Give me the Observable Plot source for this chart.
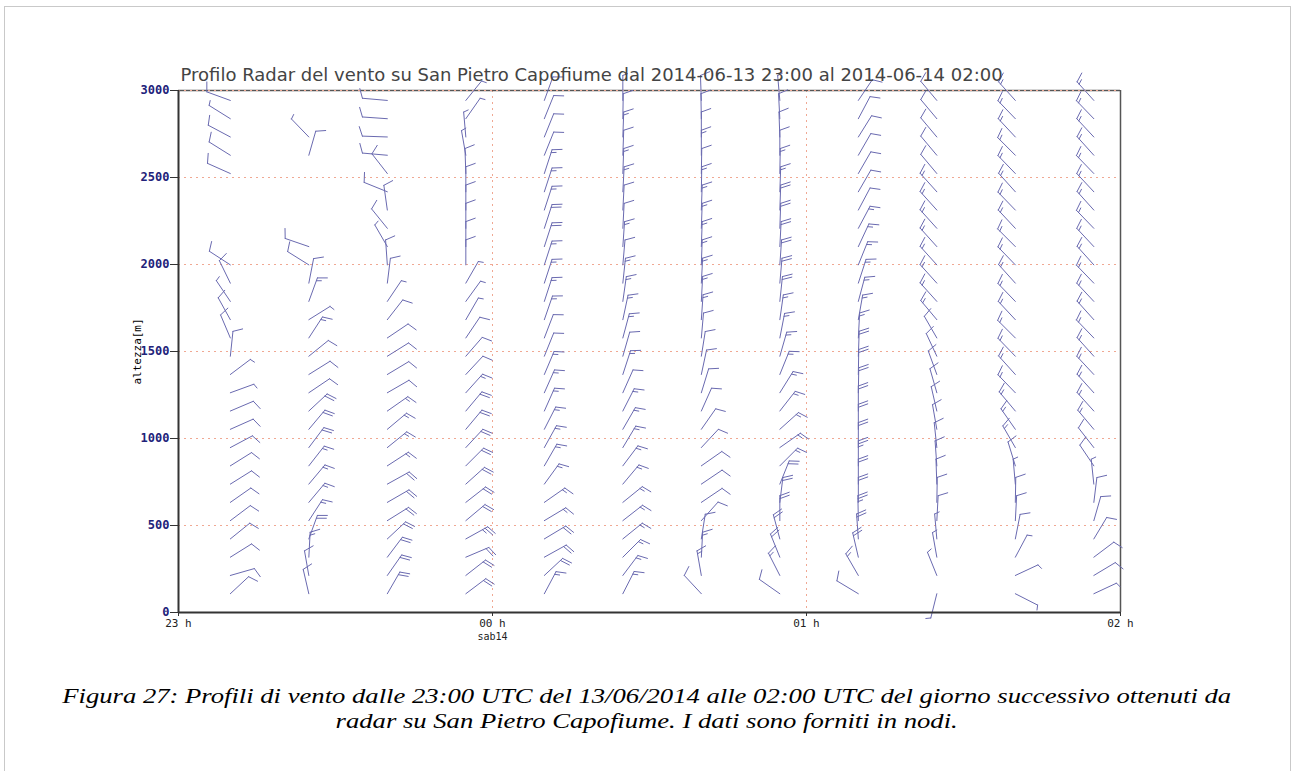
<!DOCTYPE html>
<html><head><meta charset="utf-8">
<script src="https://cdn.jsdelivr.net/npm/d3@7"></script>
<script src="https://cdn.jsdelivr.net/npm/@observablehq/plot@0.6"></script>
<style>
body{margin:0;background:#fff;}
#page{position:relative;width:1293px;height:771px;overflow:hidden;background:#fff;}
#border{position:absolute;left:4px;top:6px;width:1285px;height:820px;border:1px solid #c9c9c9;}
#chart{position:absolute;left:0;top:0;}
#caption{position:absolute;left:0;top:684px;width:1293px;text-align:center;font:italic 20px "Liberation Serif","Times New Roman",serif;line-height:25px;color:#000;transform:scaleX(1.332);transform-origin:646px 0;}
</style></head><body>
<div id="page"><div id="border"></div><div id="chart"></div>
<div id="caption">Figura 27: Profili di vento dalle 23:00 UTC del 13/06/2014 alle 02:00 UTC del giorno successivo ottenuti da<br>radar su San Pietro Capofiume. I dati sono forniti in nodi.</div></div>
<script>
// ---- data ----
const titleText = "Profilo Radar del vento su San Pietro Capofiume dal 2014-06-13 23:00 al 2014-06-14 02:00";
// profile times, minutes after 23:00 UTC
const times = [10, 25, 40, 55, 70, 85, 100, 115, 130, 145, 160, 175];
// radar gate heights (m)
const heights = [105, 210, 315, 420, 525, 630, 735, 840, 945, 1050, 1155, 1260, 1365, 1470,
  1575, 1680, 1785, 1890, 1995, 2100, 2205, 2310, 2415, 2520, 2625, 2730, 2835, 2940];
// wind direction (deg, from) per profile, per gate
const dir01 = [47,74,58,51,53,55,58,58,62,66,67,70,53,6,337,331,326,334,303,null,null,null,null,294,302,298,302,290];
const dir02 = [347,350,3,20,33,40,40,38,37,40,47,56,58,51,33,58,20,11,302,289,null,null,null,null,16,316,null,null];
const dir03 = [30,35,37,47,58,60,61,57,51,50,55,60,59,58,56,38,34,7,356,330,321,352,292,322,275,272,274,275];
const dir04 = [53,52,67,61,50,52,48,45,43,40,40,42,43,41,34,30,36,30,0,0,0,0,0,358,350,355,35,39];
const dir05 = [28,47,61,59,59,55,36,30,29,27,24,24,23,22,21,19,18,18,18,18,18,18,18,18,22,22,22,20];
const dir06 = [27,37,45,51,52,51,40,37,31,30,27,24,18,16,15,12,8,6,5,4,3,3,3,2,2,2,1,0];
const dir07 = [317,350,3,9,42,56,56,55,43,35,24,17,12,9,5,4,3,3,2,2,2,2,1,1,0,0,359,358];
const dir08 = [305,333,338,345,0,7,22,45,55,48,38,32,22,16,11,8,6,5,4,3,2,2,2,1,0,358,357,355];
const dir09 = [301,330,347,356,359,0,0,0,0,0,0,1,1,2,3,10,15,18,22,25,28,28,30,30,30,32,28,34];
const dir10 = [194,338,350,355,3,1,358,356,354,350,347,344,340,335,330,320,318,318,318,318,318,318,318,320,320,320,320,320];
const dir11 = [117,65,28,11,3,1,355,343,330,325,320,316,318,316,315,317,316,318,316,315,317,316,318,316,315,317,316,318];
const dir12 = [65,59,53,31,16,7,354,326,322,320,318,318,317,318,316,318,317,316,318,317,316,318,317,316,318,317,316,318];
// wind speed (knots) per profile, per gate
const spd01 = [10,10,10,10,10,10,10,10,10,10,10,5,5,10,10,10,5,10,10,null,null,null,null,10,10,10,3,10];
const spd02 = [10,10,15,20,15,15,15,15,20,20,20,10,10,10,15,5,15,10,10,10,null,null,null,null,10,5,null,null];
const spd03 = [20,20,20,20,20,20,20,15,15,15,15,10,10,10,10,10,5,10,10,5,10,10,10,10,10,10,10,10];
const spd04 = [20,20,20,25,20,20,20,20,20,20,20,15,10,10,10,5,5,5,10,10,10,10,10,10,5,5,5,5];
const spd05 = [15,20,20,20,15,15,15,15,15,15,15,15,15,10,10,15,15,15,15,20,20,15,15,15,10,10,10,10];
const spd06 = [15,15,15,15,15,15,15,15,15,15,15,10,15,10,15,15,15,15,10,15,10,10,15,15,10,15,10,5];
const spd07 = [10,15,15,10,10,10,10,10,10,10,10,10,10,10,10,15,15,15,15,15,15,15,15,10,15,10,10,10];
const spd08 = [10,15,20,20,20,20,20,15,15,15,15,15,15,15,15,15,20,20,20,20,20,20,15,15,10,10,10,5];
const spd09 = [10,15,20,20,25,20,20,25,20,20,20,20,20,20,15,15,15,15,15,15,15,10,10,10,10,10,10,10];
const spd10 = [3,5,5,5,10,10,10,10,10,10,10,10,10,10,10,15,15,15,15,15,15,15,15,10,10,10,10,10];
const spd11 = [5,5,5,10,10,10,5,10,15,15,15,15,15,15,15,15,15,15,15,15,15,15,15,15,15,15,15,15];
const spd12 = [5,10,10,10,10,10,5,10,10,15,15,15,15,15,15,15,15,15,15,15,15,15,15,15,15,15,15,15];
// axes
const xTicks = [0, 60, 120, 180];
const xTickLabels = ["23 h", "00 h", "01 h", "02 h"];
const dayLabel = "sab14";
const yTicks = [0, 500, 1000, 1500, 2000, 2500, 3000];
const yLabel = "altezza[m]";

// ---- build table ----
const dirs = [dir01,dir02,dir03,dir04,dir05,dir06,dir07,dir08,dir09,dir10,dir11,dir12];
const spds = [spd01,spd02,spd03,spd04,spd05,spd06,spd07,spd08,spd09,spd10,spd11,spd12];
const rows = [];
times.forEach((t, i) => heights.forEach((h, k) => {
  if (dirs[i][k] != null) rows.push({t, h, dir: dirs[i][k], spd: spds[i][k]});
}));

const barbColor = "#6a6ab0";
const gridColor = "#f0a893";
const navy = "#22227a";
const STAFF = 25, FULL = 10, HALF = 5, GAP = 3, FANG = 70;

function windBarbs(index, scales) {
  const g = d3.create("svg:g").attr("aria-label", "wind barbs")
    .attr("fill", "none").attr("stroke", barbColor).attr("stroke-width", 1)
    .attr("stroke-linecap", "round").attr("stroke-linejoin", "round");
  for (const d of rows) {
    const x0 = scales.x(d.t), y0 = scales.y(d.h);
    const a = d.dir * Math.PI / 180;
    const ux = Math.sin(a), uy = -Math.cos(a);
    const xt = x0 + STAFF * ux, yt = y0 + STAFF * uy;
    let p = `M${x0},${y0}L${xt},${yt}`;
    const fa = (d.dir + FANG) * Math.PI / 180;
    const fx = Math.sin(fa), fy = -Math.cos(fa);
    let s = Math.round(d.spd / 5) * 5, pos = 0;
    while (s >= 10) {
      const px = xt - pos * ux, py = yt - pos * uy;
      p += `M${px},${py}l${FULL * fx},${FULL * fy}`;
      s -= 10; pos += GAP;
    }
    if (s >= 5) {
      const px = xt - pos * ux, py = yt - pos * uy;
      p += `M${px},${py}l${HALF * fx},${HALF * fy}`;
    }
    g.append("path").attr("d", p);
  }
  return g.node();
}

const chart = Plot.plot({
  width: 1293, height: 650,
  marginLeft: 178, marginRight: 173, marginTop: 90, marginBottom: 38,
  x: {domain: [0, 180]},
  y: {domain: [0, 3000]},
  style: {fontFamily: "DejaVu Sans Mono", fontSize: "11px", background: "transparent", overflow: "visible"},
  marks: [
    Plot.ruleY(yTicks.filter(v => v > 0 && v < 3000), {stroke: gridColor, strokeDasharray: "2,4", strokeWidth: 1}),
    Plot.ruleX(xTicks.filter(v => v > 0 && v < 180), {stroke: gridColor, strokeDasharray: "2,4", strokeWidth: 1}),
    Plot.ruleX([180], {stroke: "#555", strokeWidth: 1.5}),
    Plot.ruleY([3000], {stroke: "#555", strokeWidth: 1.5}),
    Plot.ruleY([3000], {stroke: gridColor, strokeDasharray: "2,4", strokeWidth: 1}),
    windBarbs,
    Plot.ruleX([0], {stroke: "#333", strokeWidth: 2}),
    Plot.ruleY([0], {stroke: "#333", strokeWidth: 2}),
    Plot.axisY({ticks: yTicks, tickSize: 8, tickPadding: 1, tickFormat: d => String(d),
      fill: navy, stroke: "#333", fontSize: 12, fontWeight: "bold", label: null}),
    Plot.axisX({ticks: xTicks, tickSize: 4, tickPadding: 3, tickFormat: (d) => xTickLabels[xTicks.indexOf(d)],
      fill: "#222", stroke: "#333", fontSize: 11, label: null}),
    Plot.text([dayLabel], {x: 60, frameAnchor: "bottom", dy: 27, fontSize: 10, fill: "#222"}),
    Plot.text([yLabel], {frameAnchor: "left", textAnchor: "middle", dx: -41, rotate: -90, fontSize: 11, fill: "#000"}),
    Plot.text([titleText], {frameAnchor: "top-left", textAnchor: "start", lineAnchor: "bottom", dx: 2, dy: -10,
      fontSize: 18, fontFamily: "DejaVu Sans", fill: "#444"})
  ]
});
document.getElementById("chart").appendChild(chart);
</script>
</body></html>
